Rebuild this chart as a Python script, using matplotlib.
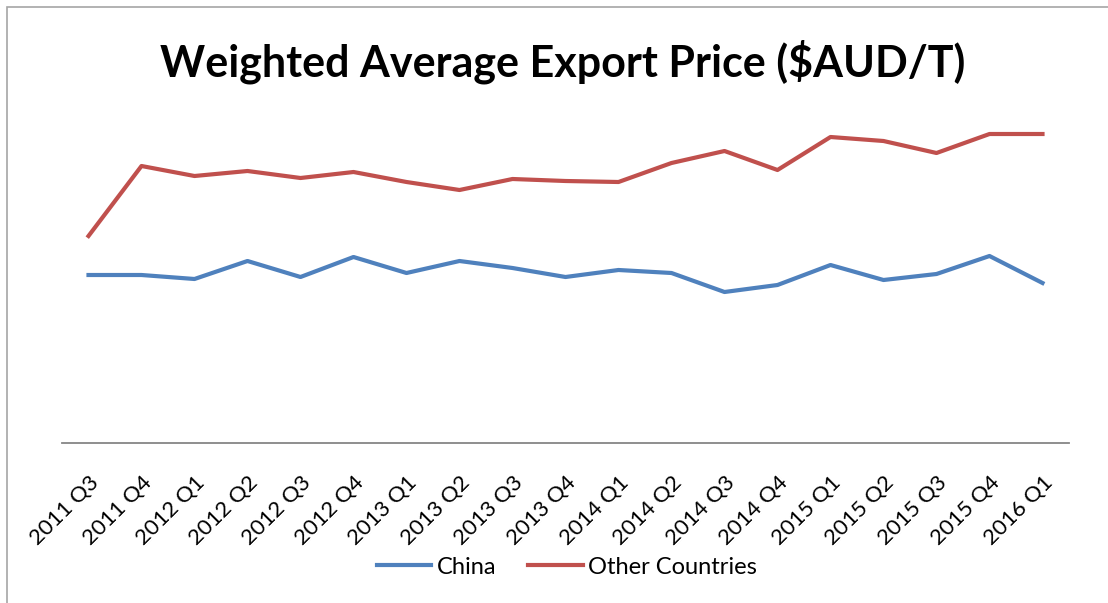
import matplotlib.pyplot as plt
from matplotlib.patches import Rectangle

quarters = ["2011 Q3", "2011 Q4", "2012 Q1", "2012 Q2", "2012 Q3", "2012 Q4",
            "2013 Q1", "2013 Q2", "2013 Q3", "2013 Q4", "2014 Q1", "2014 Q2",
            "2014 Q3", "2014 Q4", "2015 Q1", "2015 Q2", "2015 Q3", "2015 Q4",
            "2016 Q1"]
china = [168, 168, 164, 182, 166, 186, 170, 182, 175, 166, 173, 170,
         151, 158, 178, 163, 169, 187, 160]
other = [207, 277, 267, 272, 265, 271, 261, 253, 264, 262, 261, 280,
         292, 273, 306, 302, 290, 309, 309]

plt.rcParams['font.family'] = ['Lato', 'DejaVu Sans']

W, H = 1108, 603
fig = plt.figure(figsize=(W / 100, H / 100), dpi=100)

# thin grey frame around the chart area
fig.patches.append(Rectangle((7 / W, -0.1), 1.2, 1 - 7 / H + 0.1,
                             transform=fig.transFigure, fill=False,
                             edgecolor='#a6a6a6', linewidth=1.2))

ax = fig.add_axes([62 / W, 1 - 443 / H, (1069 - 62) / W, 350 / H])
x = range(len(quarters))
ax.plot(x, china, color='#4F81BD', linewidth=3, label='China')
ax.plot(x, other, color='#C0504D', linewidth=3, label='Other Countries')

ax.set_xlim(-0.5, len(quarters) - 0.5)
ax.set_ylim(0, 350)
ax.set_yticks([])
for side in ['top', 'right', 'left']:
    ax.spines[side].set_visible(False)
ax.spines['bottom'].set_color('#868686')
ax.spines['bottom'].set_linewidth(1.3)
ax.set_xticks(list(x))
ax.set_xticklabels(quarters, rotation=45, ha='right', va='top',
                   rotation_mode='anchor', fontsize=16)
ax.tick_params(axis='x', length=0, pad=21)

fig.text(563 / W, 1 - 62 / H, "Weighted Average Export Price ($AUD/T)",
         ha='center', va='center', fontsize=31, fontweight='bold')

fig.legend(loc='center', bbox_to_anchor=(567 / W, 1 - 567 / H), ncol=2,
           frameon=False, fontsize=17, handlelength=2.3, columnspacing=1.35,
           handletextpad=0.25)

fig.savefig("out.png", dpi=100)
